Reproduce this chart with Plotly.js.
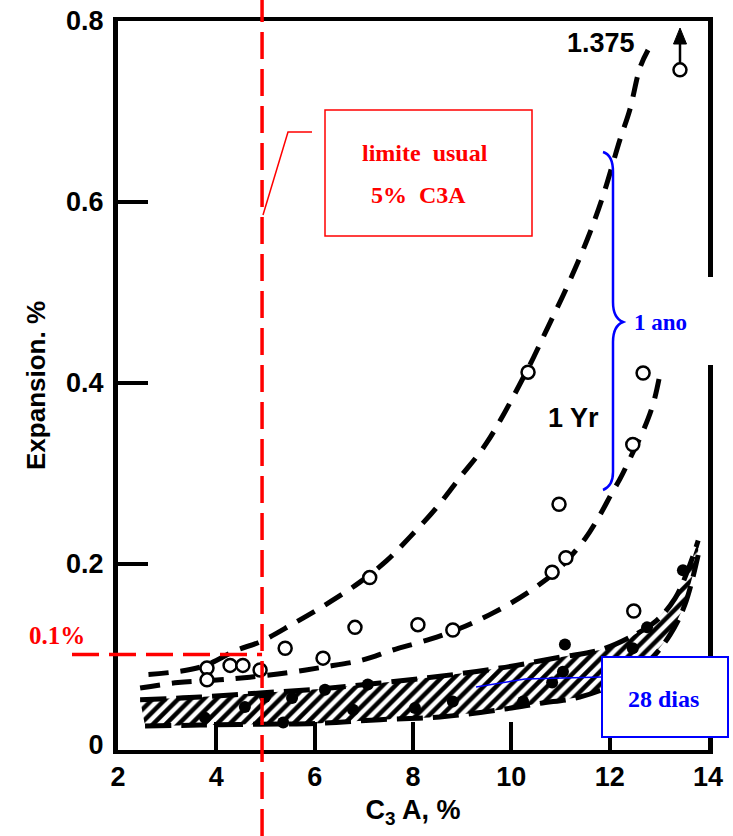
<!DOCTYPE html>
<html>
<head>
<meta charset="utf-8">
<script src="https://cdn.plot.ly/plotly-3.0.1.min.js"></script>
<style>html,body{margin:0;padding:0;background:#fff;}#chart{width:733px;height:836px;}</style>
</head>
<body>
<div id="chart"></div>
<script>
// ---- Data ----
const xTickVals = [2, 4, 6, 8, 10, 12, 14];
const xTickText = ['2', '4', '6', '8', '10', '12', '14'];
const yTickVals = [0, 0.2, 0.4, 0.6, 0.8];
const yTickText = ['0', '0.2', '0.4', '0.6', '0.8'];

// 1-year curves (dashed)
const yrUpperX = [2.62, 3.67, 4.42, 4.89, 5.56, 6.25, 6.92, 7.47, 7.94, 8.49, 8.96, 9.50, 10.32, 10.72, 11.13, 11.54, 11.86, 12.21, 12.41, 12.62, 12.78];
const yrUpperY = [0.078, 0.086, 0.105, 0.114, 0.134, 0.156, 0.180, 0.204, 0.230, 0.263, 0.296, 0.334, 0.414, 0.459, 0.506, 0.558, 0.606, 0.669, 0.702, 0.749, 0.768];
const yrLowerX = [2.45, 3.22, 4.07, 4.68, 5.46, 6.17, 6.98, 7.59, 8.35, 8.96, 9.63, 10.38, 10.99, 11.50, 11.80, 12.05, 12.21, 12.47, 12.68, 12.88, 13.02];
const yrLowerY = [0.063, 0.069, 0.072, 0.075, 0.080, 0.086, 0.094, 0.105, 0.117, 0.129, 0.146, 0.170, 0.196, 0.228, 0.254, 0.279, 0.294, 0.323, 0.347, 0.376, 0.409];

// 1-year measured points (open circles)
const yrPointsX = [13.43, 10.34, 12.68, 12.47, 10.97, 11.11, 10.83, 7.12, 6.82, 8.10, 8.81, 5.40, 6.17, 12.49, 3.81, 3.81, 4.28, 4.54, 4.89];
const yrPointsY = [0.746, 0.412, 0.411, 0.332, 0.266, 0.207, 0.191, 0.185, 0.130, 0.133, 0.127, 0.107, 0.096, 0.148, 0.085, 0.072, 0.088, 0.088, 0.083];

// 28-day band (hatched) boundaries
const bandTopX = [2.45, 3.67, 4.89, 6.11, 7.33, 8.55, 9.77, 10.99, 11.80, 12.41, 12.92, 13.33, 13.63, 13.80];
const bandTopY = [0.050, 0.053, 0.0575, 0.062, 0.0685, 0.076, 0.085, 0.097, 0.105, 0.119, 0.136, 0.162, 0.199, 0.226];
const bandLowX = [2.55, 3.67, 4.89, 6.11, 7.33, 8.55, 9.77, 10.58, 11.39, 12.21, 12.82, 13.23, 13.53, 13.80];
const bandLowY = [0.021, 0.022, 0.023, 0.024, 0.028, 0.031, 0.039, 0.046, 0.053, 0.070, 0.094, 0.122, 0.155, 0.210];

// 28-day measured points (filled circles)
const dayPointsX = [3.77, 4.58, 4.99, 5.54, 5.36, 6.21, 6.78, 7.08, 8.04, 8.81, 10.24, 10.83, 11.09, 11.05, 12.47, 12.76, 13.49];
const dayPointsY = [0.030, 0.042, 0.053, 0.052, 0.025, 0.061, 0.039, 0.067, 0.041, 0.048, 0.048, 0.069, 0.111, 0.081, 0.107, 0.130, 0.193];

// Reference limits
const limitC3A = 4.93;
const limitExp = 0.1;

// ---- Geometry helpers for decorations (plot area in pixels) ----
const PL = 118, PR = 708, PT = 21, PB = 750;
const px = v => (v - PL) / (PR - PL);
const py = v => (PB - v) / (PB - PT);

const black = '#000';
const blue = '#0000ff';
const red = '#ff0000';
const sans = 'Liberation Sans, Arial, sans-serif';
const serif = 'Liberation Serif, Times New Roman, serif';

const bandPolyX = bandTopX.concat(bandLowX.slice().reverse());
const bandPolyY = bandTopY.concat(bandLowY.slice().reverse());

const traces = [
  {x: bandPolyX, y: bandPolyY, mode: 'lines', fill: 'toself', line: {width: 0, color: 'rgba(0,0,0,0)'},
   fillcolor: 'white', fillpattern: {shape: '/', fgcolor: black, bgcolor: 'white', size: 9, solidity: 0.5},
   hoverinfo: 'skip'},
  {x: bandTopX, y: bandTopY, mode: 'lines', line: {color: black, width: 5, dash: '26px,10px', shape: 'spline'}},
  {x: bandLowX, y: bandLowY, mode: 'lines', line: {color: black, width: 5, dash: '26px,10px', shape: 'spline'}},
  {x: yrUpperX, y: yrUpperY, mode: 'lines', line: {color: black, width: 5, dash: '20px,12px', shape: 'spline'}},
  {x: yrLowerX, y: yrLowerY, mode: 'lines', line: {color: black, width: 5, dash: '20px,12px', shape: 'spline'}},
  {x: dayPointsX, y: dayPointsY, mode: 'markers', marker: {symbol: 'circle', size: 12, color: black}},
  {x: yrPointsX, y: yrPointsY, mode: 'markers', marker: {symbol: 'circle', size: 13, color: 'white', line: {color: black, width: 2.5}}},
  {x: [], y: [], yaxis: 'y2', mode: 'markers', hoverinfo: 'skip'}
];

const bracePath = 'M ' + px(603) + ' ' + py(152) +
  ' Q ' + px(613) + ' ' + py(155) + ' ' + px(613) + ' ' + py(172) +
  ' L ' + px(613) + ' ' + py(302) +
  ' Q ' + px(613) + ' ' + py(318) + ' ' + px(623) + ' ' + py(322) +
  ' Q ' + px(613) + ' ' + py(326) + ' ' + px(613) + ' ' + py(342) +
  ' L ' + px(613) + ' ' + py(472) +
  ' Q ' + px(613) + ' ' + py(486) + ' ' + px(603) + ' ' + py(490);

const arrowHead = 'M ' + px(680) + ' ' + py(28) + ' L ' + px(673.5) + ' ' + py(44) +
  ' L ' + px(686.5) + ' ' + py(44) + ' Z';

const shapes = [
  {type: 'line', xref: 'x', yref: 'paper', x0: limitC3A, x1: limitC3A, y0: py(836), y1: py(0),
   line: {color: red, width: 3.5, dash: '27px,10px'}, layer: 'above'},
  {type: 'line', xref: 'paper', yref: 'y', x0: px(72), x1: (limitC3A - 2) / 12, y0: limitExp, y1: limitExp,
   line: {color: red, width: 3.5, dash: '27px,10px'}, layer: 'above'},
  {type: 'rect', xref: 'paper', yref: 'paper', x0: px(325), x1: px(532), y0: py(236), y1: py(110),
   line: {color: red, width: 1.5}, fillcolor: 'white', layer: 'above'},
  {type: 'path', xref: 'paper', yref: 'paper',
   path: 'M ' + px(312) + ' ' + py(132) + ' L ' + px(288) + ' ' + py(132) + ' L ' + px(263) + ' ' + py(215),
   line: {color: red, width: 1.5}, layer: 'above'},
  {type: 'rect', xref: 'paper', yref: 'paper', x0: px(690), x1: px(720), y0: py(365), y1: py(277),
   line: {width: 0}, fillcolor: 'white', layer: 'above'},
  {type: 'path', xref: 'paper', yref: 'paper', path: bracePath, line: {color: blue, width: 2.5}, layer: 'above'},
  {type: 'path', xref: 'paper', yref: 'paper',
   path: 'M ' + px(476) + ' ' + py(687) + ' L ' + px(525) + ' ' + py(679) + ' L ' + px(602) + ' ' + py(677),
   line: {color: blue, width: 1.5}, layer: 'above'},
  {type: 'rect', xref: 'paper', yref: 'paper', x0: px(602), x1: px(728), y0: py(737), y1: py(657),
   line: {color: blue, width: 2}, fillcolor: 'white', layer: 'above'},
  {type: 'line', xref: 'paper', yref: 'paper', x0: px(680), x1: px(680), y0: py(64), y1: py(40),
   line: {color: black, width: 2.5}, layer: 'above'},
  {type: 'path', xref: 'paper', yref: 'paper', path: arrowHead, fillcolor: black, line: {color: black, width: 1}, layer: 'above'}
];

function label(x, y, text, font) {
  return {xref: 'paper', yref: 'paper', x: px(x), y: py(y), xanchor: 'center', yanchor: 'middle',
          text: text, showarrow: false, font: font};
}

const annotations = [
  label(425, 153, '<b>limite\u00a0\u00a0usual</b>', {family: serif, size: 24, color: red}),
  label(418, 195, '<b>5%\u00a0\u00a0C3A</b>', {family: serif, size: 24, color: red}),
  label(57, 635, '<b>0.1%</b>', {family: serif, size: 25, color: red}),
  label(660, 322, '<b>1 ano</b>', {family: serif, size: 23, color: blue}),
  label(663, 699, '<b>28 dias</b>', {family: serif, size: 24, color: blue}),
  label(601, 43, '<b>1.375</b>', {family: sans, size: 27, color: black}),
  label(573, 418, '<b>1 Yr</b>', {family: sans, size: 27, color: black})
];

const tickFont = {family: sans, size: 27, color: black, weight: 'bold'};

const layout = {
  width: 733, height: 836,
  margin: {l: 118, r: 25, t: 21, b: 86, pad: 0},
  paper_bgcolor: 'white', plot_bgcolor: 'white',
  showlegend: false,
  xaxis: {
    range: [2, 14], tickvals: xTickVals, ticktext: xTickText,
    ticks: 'inside', ticklen: 28, tickwidth: 4, tickcolor: black,
    showline: true, linewidth: 4, linecolor: black, mirror: true,
    showgrid: false, zeroline: false, tickfont: tickFont, ticklabelstandoff: 0,
    title: {text: '<b>C<sub>3</sub> A, %</b>', font: {family: sans, size: 27, color: black}, standoff: 10}
  },
  yaxis: {
    range: [-0.0055, 0.8], tickvals: yTickVals, ticktext: yTickText,
    ticks: '', showline: true, linewidth: 5, linecolor: black, mirror: true,
    showgrid: false, zeroline: false, tickfont: tickFont, ticklabelstandoff: 4,
    title: {text: '<b>Expansion. %</b>', font: {family: sans, size: 26, color: black}, standoff: 14}
  },
  yaxis2: {
    overlaying: 'y', side: 'left', anchor: 'x',
    range: [-0.0055, 0.8], tickvals: [0.2, 0.4, 0.6],
    ticks: 'inside', ticklen: 30, tickwidth: 4, tickcolor: black,
    showticklabels: false, showline: false, showgrid: false, zeroline: false
  },
  shapes: shapes,
  annotations: annotations
};

Plotly.newPlot('chart', traces, layout, {displayModeBar: false, staticPlot: true});
</script>
</body>
</html>
